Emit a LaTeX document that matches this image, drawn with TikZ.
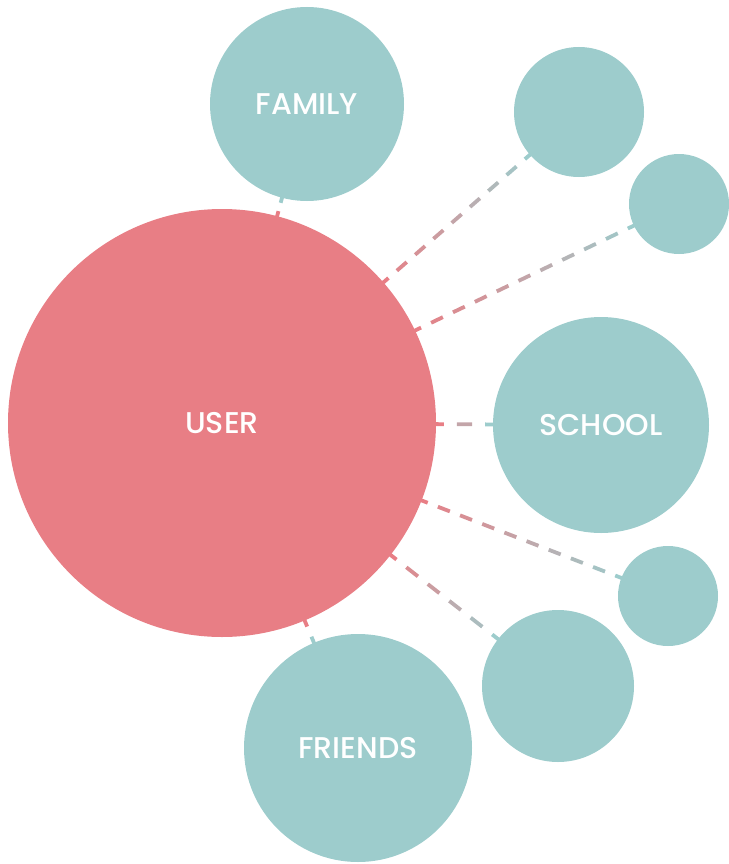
\documentclass[tikz,border=0pt]{standalone}
\usepackage{fontspec}
\setmainfont{Poppins}
\newfontfamily\labelfont{Poppins Medium}
\usepackage{tikz}
\usetikzlibrary{calc,backgrounds}
\definecolor{userpink}{HTML}{E87E85}
\definecolor{ringteal}{HTML}{9DCCCC}
\tikzset{
  bubble/.style={circle,fill=ringteal,inner sep=0pt,text=white,
    font=\labelfont\fontsize{30}{34}\selectfont},
  link/.style={line width=3.8pt},
}
% dashed tie whose dashes fade from pink to teal
\newcommand{\tie}[3]{%
  \path (#1) -- (#2) coordinate[pos=0] (ta) coordinate[pos=1] (tb);
  \foreach \k in {0,...,#3}{
    \pgfmathtruncatemacro\mix{100-100*\k/#3}
    \pgfmathsetmacro\lo{(\k-0.27)/#3}
    \pgfmathsetmacro\hi{(\k+0.27)/#3}
    \draw[link,userpink!\mix!ringteal] ($(ta)!\lo!(tb)$) -- ($(ta)!\hi!(tb)$);
  }}

\begin{document}
\begin{tikzpicture}[x=1pt,y=-1pt]
  \useasboundingbox (0,0) rectangle (728,864);
  % centre
  \node[bubble,fill=userpink,minimum size=428pt] (user) at (222,423) {USER};
  % named groups
  \node[bubble,minimum size=194pt] (family)  at (307,104) {FAMILY};
  \node[bubble,minimum size=216pt] (school)  at (601,425) {SCHOOL};
  \node[bubble,minimum size=228pt] (friends) at (358,748) {FRIENDS};
  % empty ones
  \node[bubble,minimum size=130pt] (topa) at (579,112) {};
  \node[bubble,minimum size=100pt] (topb) at (679,204) {};
  \node[bubble,minimum size=100pt] (lowa) at (668,596) {};
  \node[bubble,minimum size=152pt] (lowb) at (558,686) {};
  \begin{scope}[on background layer]
    \tie{user}{family}{1}
    \tie{user}{topa}{8}
    \tie{user}{topb}{10}
    \tie{user}{school}{2}
    \tie{user}{lowa}{9}
    \tie{user}{lowb}{5}
    \tie{user}{friends}{1}
  \end{scope}
\end{tikzpicture}
\end{document}
